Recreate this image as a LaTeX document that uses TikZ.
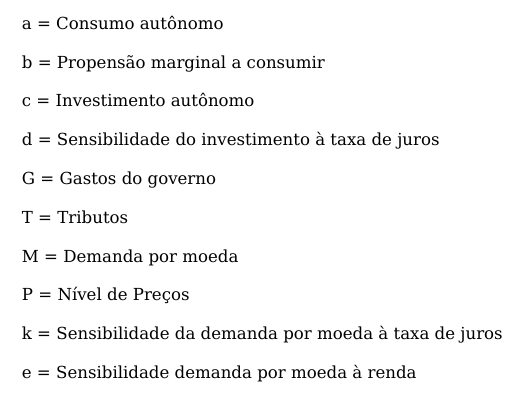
\documentclass[tikz,border=0pt]{standalone}
\usepackage{fontspec}
\setmainfont{DejaVu Serif}
\begin{document}
\begin{tikzpicture}[x=1pt,y=1pt,
  item/.style={anchor=base west,inner sep=0pt,font=\fontsize{16.6}{18}\selectfont}]
\useasboundingbox[fill=white] (0,0) rectangle (526,-407);
\node[item] (a) at (21.7,-29.3) {a = Consumo autônomo};
\node[item] (b) at (21.7,-68.1) {b = Propensão marginal a consumir};
\node[item] (c) at (21.7,-106.9) {c = Investimento autônomo};
\node[item] (d) at (21.7,-145.7) {d = Sensibilidade do investimento à taxa de juros};
\node[item] (G) at (21.7,-184.5) {G = Gastos do governo};
\node[item] (T) at (21.7,-223.3) {T = Tributos};
\node[item] (M) at (21.7,-262.1) {M = Demanda por moeda};
\node[item] (P) at (21.7,-300.9) {P = Nível de Preços};
\node[item] (k) at (21.7,-339.7) {k = Sensibilidade da demanda por moeda à taxa de juros};
\node[item] (e) at (21.7,-378.5) {e = Sensibilidade demanda por moeda à renda};
\end{tikzpicture}
\end{document}
